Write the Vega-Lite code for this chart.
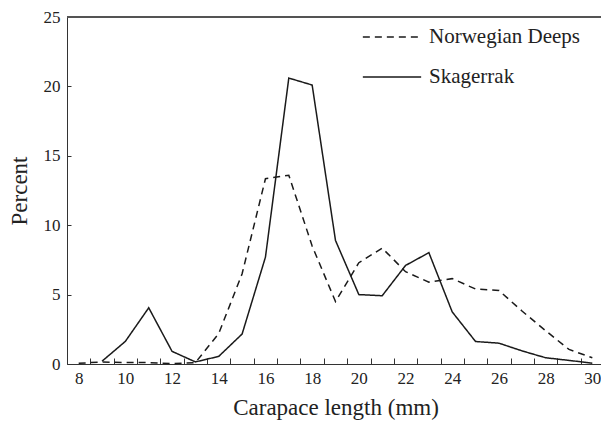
{
  "$schema": "https://vega.github.io/schema/vega-lite/v6.json",
  "autosize": {"type": "none"},
  "padding": {"left": 67, "top": 17, "right": 0, "bottom": 57},
  "width": 537,
  "height": 347,
  "background": "white",
  "config": {
    "view": {"stroke": null},
    "font": "Liberation Serif",
    "axis": {
      "domainColor": "#333",
      "tickColor": "#333",
      "labelColor": "#222",
      "titleColor": "#222",
      "grid": false,
      "labelFont": "Liberation Serif",
      "titleFont": "Liberation Serif",
      "titleFontWeight": "normal",
      "labelFontSize": 17,
      "titleFontSize": 23
    },
    "legend": {
      "labelFont": "Liberation Serif",
      "labelFontSize": 21,
      "labelColor": "#222"
    }
  },
  "data": {
    "values": [
      {"len": 8, "pct": 0.05, "region": "Norwegian Deeps"},
      {"len": 9, "pct": 0.15, "region": "Norwegian Deeps"},
      {"len": 10, "pct": 0.1, "region": "Norwegian Deeps"},
      {"len": 11, "pct": 0.1, "region": "Norwegian Deeps"},
      {"len": 12, "pct": 0.03, "region": "Norwegian Deeps"},
      {"len": 13, "pct": 0.1, "region": "Norwegian Deeps"},
      {"len": 14, "pct": 2.2, "region": "Norwegian Deeps"},
      {"len": 15, "pct": 6.5, "region": "Norwegian Deeps"},
      {"len": 16, "pct": 13.35, "region": "Norwegian Deeps"},
      {"len": 17, "pct": 13.6, "region": "Norwegian Deeps"},
      {"len": 18, "pct": 8.5, "region": "Norwegian Deeps"},
      {"len": 19, "pct": 4.5, "region": "Norwegian Deeps"},
      {"len": 20, "pct": 7.3, "region": "Norwegian Deeps"},
      {"len": 21, "pct": 8.35, "region": "Norwegian Deeps"},
      {"len": 22, "pct": 6.65, "region": "Norwegian Deeps"},
      {"len": 23, "pct": 5.9, "region": "Norwegian Deeps"},
      {"len": 24, "pct": 6.15, "region": "Norwegian Deeps"},
      {"len": 25, "pct": 5.4, "region": "Norwegian Deeps"},
      {"len": 26, "pct": 5.3, "region": "Norwegian Deeps"},
      {"len": 27, "pct": 3.8, "region": "Norwegian Deeps"},
      {"len": 28, "pct": 2.4, "region": "Norwegian Deeps"},
      {"len": 29, "pct": 1.05, "region": "Norwegian Deeps"},
      {"len": 30, "pct": 0.45, "region": "Norwegian Deeps"},
      {"len": 9, "pct": 0.2, "region": "Skagerrak"},
      {"len": 10, "pct": 1.63, "region": "Skagerrak"},
      {"len": 11, "pct": 4.05, "region": "Skagerrak"},
      {"len": 12, "pct": 0.91, "region": "Skagerrak"},
      {"len": 13, "pct": 0.15, "region": "Skagerrak"},
      {"len": 14, "pct": 0.55, "region": "Skagerrak"},
      {"len": 15, "pct": 2.16, "region": "Skagerrak"},
      {"len": 16, "pct": 7.7, "region": "Skagerrak"},
      {"len": 17, "pct": 20.6, "region": "Skagerrak"},
      {"len": 18, "pct": 20.1, "region": "Skagerrak"},
      {"len": 19, "pct": 8.9, "region": "Skagerrak"},
      {"len": 20, "pct": 5.0, "region": "Skagerrak"},
      {"len": 21, "pct": 4.92, "region": "Skagerrak"},
      {"len": 22, "pct": 7.1, "region": "Skagerrak"},
      {"len": 23, "pct": 8.02, "region": "Skagerrak"},
      {"len": 24, "pct": 3.75, "region": "Skagerrak"},
      {"len": 25, "pct": 1.62, "region": "Skagerrak"},
      {"len": 26, "pct": 1.5, "region": "Skagerrak"},
      {"len": 27, "pct": 0.94, "region": "Skagerrak"},
      {"len": 28, "pct": 0.45, "region": "Skagerrak"},
      {"len": 29, "pct": 0.26, "region": "Skagerrak"},
      {"len": 30, "pct": 0.06, "region": "Skagerrak"}
    ]
  },
  "layer": [
    {
      "mark": {"type": "rule", "color": "#555", "strokeWidth": 1},
      "encoding": {"y": {"datum": 25}}
    },
    {
      "mark": {"type": "line", "color": "#1a1a1a", "strokeWidth": 1.5},
      "encoding": {
        "x": {
          "field": "len",
          "type": "ordinal",
          "bandPosition": 0.5,
          "scale": {"type": "band", "paddingInner": 0, "paddingOuter": 0},
          "axis": {
            "title": "Carapace length (mm)",
            "labelAngle": 0,
            "tickBand": "extent",
            "tickSize": -6,
            "labelPadding": 12,
            "titlePadding": 10,
            "labelExpr": "datum.value % 2 == 0 ? datum.label : ''"
          }
        },
        "y": {
          "field": "pct",
          "type": "quantitative",
          "scale": {"domain": [0, 25], "nice": false},
          "axis": {
            "title": "Percent",
            "values": [0, 5, 10, 15, 20, 25],
            "tickSize": -4,
            "labelPadding": 11,
            "titlePadding": 12
          }
        },
        "strokeDash": {
          "field": "region",
          "type": "nominal",
          "scale": {
            "domain": ["Norwegian Deeps", "Skagerrak"],
            "range": [[7, 5], [1, 0]]
          },
          "legend": {
            "title": null,
            "orient": "none",
            "legendX": 295,
            "legendY": -10,
            "padding": 0,
            "symbolType": "stroke",
            "symbolSize": 3400,
            "symbolStrokeWidth": 1.5,
            "symbolStrokeColor": "#1a1a1a",
            "labelOffset": 7,
            "rowPadding": -2
          }
        }
      }
    }
  ]
}
